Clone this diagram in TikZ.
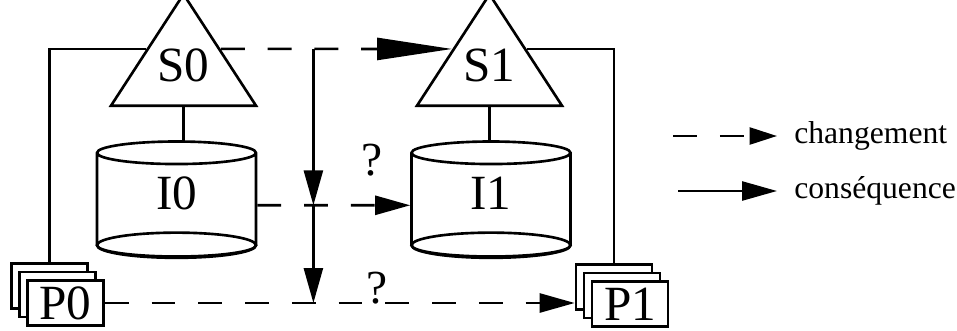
\documentclass[tikz,border=0pt]{standalone}
\usepackage{fontspec}
\setmainfont{Liberation Serif}
\usepackage{tikz}
\usetikzlibrary{arrows.meta,calc,positioning,shapes.geometric}

\begin{document}
\begin{tikzpicture}[
  line width=1.5pt,
  sys/.style={isosceles triangle,isosceles triangle stretches,draw,
    shape border rotate=90,minimum width=2.9cm,minimum height=1.95cm,
    inner sep=0pt,text depth=.32cm,font=\fontsize{28}{28}\selectfont},
  base/.style={cylinder,draw,shape border rotate=90,aspect=.55,
    minimum width=3.18cm,minimum height=2.3cm,inner sep=0pt,
    text depth=.48cm,font=\fontsize{28}{28}\selectfont},
  card/.style={draw,fill=white,minimum width=1.52cm,minimum height=.9cm,
    inner sep=0pt,font=\fontsize{28}{28}\selectfont},
  chg/.style={dash pattern=on 13.6pt off 13pt,
    -{Triangle[length=.7cm,width=.38cm]}},
  cons/.style={-{Triangle[length=.7cm,width=.38cm]}},
  q/.style={font=\fontsize{27}{27}\selectfont,inner sep=0pt},
  leg/.style={font=\fontsize{18}{18}\selectfont,anchor=west,
    inner xsep=.32cm,inner ysep=0pt}]
  \useasboundingbox (0,0) rectangle (19.14,6.6);
  % schemas and instances
  \node[sys,anchor=lower side] (S0) at (3.67,4.46) {S0};
  \node[sys,anchor=lower side] (S1) at (9.79,4.46) {S1};
  \node[base,anchor=shape center] (I0) at (3.53,2.62) {I0};
  \node[base,anchor=shape center] (I1) at (9.82,2.62) {I1};
  \foreach \c in {I0,I1}
    \draw let \p1=($(\c.before bottom)!.5!(\c.after bottom)$),
      \p2=(\c.bottom) in (\p1) ellipse [x radius=1.59cm,y radius={\y1-\y2}];
  % programs
  \node[card] (P0c) at (0.99,0.88) {};
  \node[card] (P0b) at (1.15,0.71) {};
  \node[card] (P0) at (1.31,0.54) {P0};
  \node[card] (P1c) at (12.28,0.86) {};
  \node[card] (P1b) at (12.44,0.69) {};
  \node[card] (P1) at (12.6,0.52) {P1};
  \draw (S0.lower side) -- (S0.lower side |- I0.top);
  \draw (S1.lower side) -- (S1.lower side |- I1.top);
  \draw (S0.left side) -| (P0c.north);
  \draw (S1.right side) -| (P1c.north);
  % changes and consequences
  \draw[chg,-{Triangle[length=1.5cm,width=.44cm]}]
    (S0.right side) -- (S1.left side);
  \coordinate (fork) at ($(S0.right side)!.4!(S1.left side)$);
  \coordinate (cross) at (fork |- I0.east);
  \draw[cons] (fork) -- (cross);
  \draw[cons] (cross) -- (cross |- P0.east);
  \draw[chg] (I0.east) -- node[pos=.75,above=.55cm,q] {?} (I1.west);
  \draw[chg] (P0.east) -- node[pos=.58,anchor=base,q] {?}
    (P0.east -| P1c.west);
  % legend
  \node[leg] (lchg) at (15.54,3.88) {changement};
  \node[leg] (lcons) at (15.54,2.78) {conséquence};
  \coordinate[left=2.08cm of lchg.west] (chg0);
  \coordinate[left=1.98cm of lcons.west] (cons0);
  \draw[chg,-{Triangle[length=.55cm,width=.34cm]}] (chg0) -- (lchg.west);
  \draw[cons] (cons0) -- (lcons.west);
\end{tikzpicture}
\end{document}
